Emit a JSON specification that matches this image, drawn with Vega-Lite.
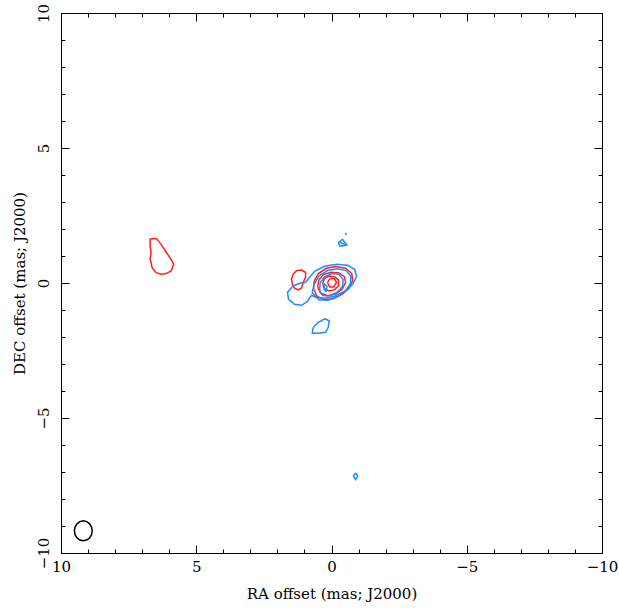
{
  "$schema": "https://vega.github.io/schema/vega-lite/v6.json",
  "width": 541,
  "height": 540,
  "autosize": {"type": "none"},
  "padding": {"left": 61, "top": 13, "right": 17, "bottom": 59},
  "background": "white",
  "config": {
    "view": {"stroke": "#000000", "strokeWidth": 1},
    "axis": {"labelFont": "DejaVu Serif", "titleFont": "DejaVu Serif", "labelColor": "#000", "titleColor": "#000", "tickColor": "#000", "labelFlush": false, "labelOverlap": false, "grid": false, "domain": false}
  },
  "data": {"values": [
    {"id": "r0", "series": "A", "seq": 0, "ra": 6.706, "dec": 1.643},
    {"id": "r0", "series": "A", "seq": 1, "ra": 6.462, "dec": 1.643},
    {"id": "r0", "series": "A", "seq": 2, "ra": 6.299, "dec": 1.432},
    {"id": "r0", "series": "A", "seq": 3, "ra": 6.114, "dec": 1.147},
    {"id": "r0", "series": "A", "seq": 4, "ra": 5.929, "dec": 0.877},
    {"id": "r0", "series": "A", "seq": 5, "ra": 5.833, "dec": 0.692},
    {"id": "r0", "series": "A", "seq": 6, "ra": 5.929, "dec": 0.444},
    {"id": "r0", "series": "A", "seq": 7, "ra": 6.114, "dec": 0.348},
    {"id": "r0", "series": "A", "seq": 8, "ra": 6.299, "dec": 0.322},
    {"id": "r0", "series": "A", "seq": 9, "ra": 6.484, "dec": 0.385},
    {"id": "r0", "series": "A", "seq": 10, "ra": 6.632, "dec": 0.570},
    {"id": "r0", "series": "A", "seq": 11, "ra": 6.669, "dec": 0.755},
    {"id": "r0", "series": "A", "seq": 12, "ra": 6.706, "dec": 0.877},
    {"id": "r0", "series": "A", "seq": 13, "ra": 6.669, "dec": 1.125},
    {"id": "r0", "series": "A", "seq": 14, "ra": 6.706, "dec": 1.369},
    {"id": "r0", "series": "A", "seq": 15, "ra": 6.706, "dec": 1.643},

    {"id": "r1", "series": "A", "seq": 0, "ra": 1.414, "dec": 0.333},
    {"id": "r1", "series": "A", "seq": 1, "ra": 1.292, "dec": 0.459},
    {"id": "r1", "series": "A", "seq": 2, "ra": 1.107, "dec": 0.481},
    {"id": "r1", "series": "A", "seq": 3, "ra": 0.959, "dec": 0.396},
    {"id": "r1", "series": "A", "seq": 4, "ra": 0.959, "dec": 0.211},
    {"id": "r1", "series": "A", "seq": 5, "ra": 1.044, "dec": 0.026},
    {"id": "r1", "series": "A", "seq": 6, "ra": 1.107, "dec": -0.185},
    {"id": "r1", "series": "A", "seq": 7, "ra": 1.229, "dec": -0.259},
    {"id": "r1", "series": "A", "seq": 8, "ra": 1.377, "dec": -0.185},
    {"id": "r1", "series": "A", "seq": 9, "ra": 1.451, "dec": -0.011},
    {"id": "r1", "series": "A", "seq": 10, "ra": 1.477, "dec": 0.148},
    {"id": "r1", "series": "A", "seq": 11, "ra": 1.414, "dec": 0.333},

    {"id": "r2", "series": "A", "seq": 0, "ra": 0.660, "dec": -0.230},
    {"id": "r2", "series": "A", "seq": 1, "ra": 0.640, "dec": 0.070},
    {"id": "r2", "series": "A", "seq": 2, "ra": 0.485, "dec": 0.350},
    {"id": "r2", "series": "A", "seq": 3, "ra": 0.190, "dec": 0.545},
    {"id": "r2", "series": "A", "seq": 4, "ra": -0.160, "dec": 0.610},
    {"id": "r2", "series": "A", "seq": 5, "ra": -0.520, "dec": 0.545},
    {"id": "r2", "series": "A", "seq": 6, "ra": -0.750, "dec": 0.350},
    {"id": "r2", "series": "A", "seq": 7, "ra": -0.780, "dec": 0.090},
    {"id": "r2", "series": "A", "seq": 8, "ra": -0.650, "dec": -0.195},
    {"id": "r2", "series": "A", "seq": 9, "ra": -0.390, "dec": -0.425},
    {"id": "r2", "series": "A", "seq": 10, "ra": -0.070, "dec": -0.580},
    {"id": "r2", "series": "A", "seq": 11, "ra": 0.280, "dec": -0.620},
    {"id": "r2", "series": "A", "seq": 12, "ra": 0.535, "dec": -0.490},
    {"id": "r2", "series": "A", "seq": 13, "ra": 0.660, "dec": -0.230},

    {"id": "r3", "series": "A", "seq": 0, "ra": 0.514, "dec": -0.134},
    {"id": "r3", "series": "A", "seq": 1, "ra": 0.465, "dec": 0.112},
    {"id": "r3", "series": "A", "seq": 2, "ra": 0.305, "dec": 0.310},
    {"id": "r3", "series": "A", "seq": 3, "ra": 0.021, "dec": 0.396},
    {"id": "r3", "series": "A", "seq": 4, "ra": -0.275, "dec": 0.371},
    {"id": "r3", "series": "A", "seq": 5, "ra": -0.472, "dec": 0.236},
    {"id": "r3", "series": "A", "seq": 6, "ra": -0.522, "dec": 0.026},
    {"id": "r3", "series": "A", "seq": 7, "ra": -0.398, "dec": -0.221},
    {"id": "r3", "series": "A", "seq": 8, "ra": -0.152, "dec": -0.406},
    {"id": "r3", "series": "A", "seq": 9, "ra": 0.144, "dec": -0.468},
    {"id": "r3", "series": "A", "seq": 10, "ra": 0.391, "dec": -0.381},
    {"id": "r3", "series": "A", "seq": 11, "ra": 0.514, "dec": -0.134},

    {"id": "r4", "series": "A", "seq": 0, "ra": 0.330, "dec": -0.036},
    {"id": "r4", "series": "A", "seq": 1, "ra": 0.258, "dec": 0.176},
    {"id": "r4", "series": "A", "seq": 2, "ra": 0.090, "dec": 0.260},
    {"id": "r4", "series": "A", "seq": 3, "ra": -0.120, "dec": 0.236},
    {"id": "r4", "series": "A", "seq": 4, "ra": -0.262, "dec": 0.106},
    {"id": "r4", "series": "A", "seq": 5, "ra": -0.262, "dec": -0.092},
    {"id": "r4", "series": "A", "seq": 6, "ra": -0.120, "dec": -0.246},
    {"id": "r4", "series": "A", "seq": 7, "ra": 0.090, "dec": -0.292},
    {"id": "r4", "series": "A", "seq": 8, "ra": 0.258, "dec": -0.210},
    {"id": "r4", "series": "A", "seq": 9, "ra": 0.330, "dec": -0.036},

    {"id": "r5", "series": "A", "seq": 0, "ra": 0.150, "dec": 0.020},
    {"id": "r5", "series": "A", "seq": 1, "ra": 0.048, "dec": 0.170},
    {"id": "r5", "series": "A", "seq": 2, "ra": -0.105, "dec": 0.170},
    {"id": "r5", "series": "A", "seq": 3, "ra": -0.185, "dec": 0.020},
    {"id": "r5", "series": "A", "seq": 4, "ra": -0.085, "dec": -0.150},
    {"id": "r5", "series": "A", "seq": 5, "ra": 0.068, "dec": -0.150},
    {"id": "r5", "series": "A", "seq": 6, "ra": 0.150, "dec": 0.020},

    {"id": "b1", "series": "B", "seq": 0, "ra": 1.181, "dec": -0.011},
    {"id": "b1", "series": "B", "seq": 1, "ra": 1.440, "dec": -0.122},
    {"id": "b1", "series": "B", "seq": 2, "ra": 1.625, "dec": -0.344},
    {"id": "b1", "series": "B", "seq": 3, "ra": 1.588, "dec": -0.603},
    {"id": "b1", "series": "B", "seq": 4, "ra": 1.366, "dec": -0.788},
    {"id": "b1", "series": "B", "seq": 5, "ra": 1.107, "dec": -0.825},
    {"id": "b1", "series": "B", "seq": 6, "ra": 0.885, "dec": -0.677},
    {"id": "b1", "series": "B", "seq": 7, "ra": 0.736, "dec": -0.455},
    {"id": "b1", "series": "B", "seq": 8, "ra": 0.588, "dec": -0.529},
    {"id": "b1", "series": "B", "seq": 9, "ra": 0.255, "dec": -0.566},
    {"id": "b1", "series": "B", "seq": 10, "ra": -0.115, "dec": -0.492},
    {"id": "b1", "series": "B", "seq": 11, "ra": -0.485, "dec": -0.307},
    {"id": "b1", "series": "B", "seq": 12, "ra": -0.781, "dec": -0.048},
    {"id": "b1", "series": "B", "seq": 13, "ra": -0.929, "dec": 0.248},
    {"id": "b1", "series": "B", "seq": 14, "ra": -0.855, "dec": 0.507},
    {"id": "b1", "series": "B", "seq": 15, "ra": -0.596, "dec": 0.655},
    {"id": "b1", "series": "B", "seq": 16, "ra": -0.189, "dec": 0.692},
    {"id": "b1", "series": "B", "seq": 17, "ra": 0.255, "dec": 0.618},
    {"id": "b1", "series": "B", "seq": 18, "ra": 0.625, "dec": 0.433},
    {"id": "b1", "series": "B", "seq": 19, "ra": 0.811, "dec": 0.211},
    {"id": "b1", "series": "B", "seq": 20, "ra": 0.959, "dec": 0.026},
    {"id": "b1", "series": "B", "seq": 21, "ra": 1.181, "dec": -0.011},

    {"id": "b2", "series": "B", "seq": 0, "ra": 0.72, "dec": -0.36},
    {"id": "b2", "series": "B", "seq": 1, "ra": 0.64, "dec": -0.05},
    {"id": "b2", "series": "B", "seq": 2, "ra": 0.46, "dec": 0.26},
    {"id": "b2", "series": "B", "seq": 3, "ra": 0.15, "dec": 0.46},
    {"id": "b2", "series": "B", "seq": 4, "ra": -0.21, "dec": 0.53},
    {"id": "b2", "series": "B", "seq": 5, "ra": -0.54, "dec": 0.46},
    {"id": "b2", "series": "B", "seq": 6, "ra": -0.72, "dec": 0.25},
    {"id": "b2", "series": "B", "seq": 7, "ra": -0.70, "dec": -0.02},
    {"id": "b2", "series": "B", "seq": 8, "ra": -0.52, "dec": -0.29},
    {"id": "b2", "series": "B", "seq": 9, "ra": -0.23, "dec": -0.50},
    {"id": "b2", "series": "B", "seq": 10, "ra": 0.12, "dec": -0.64},
    {"id": "b2", "series": "B", "seq": 11, "ra": 0.46, "dec": -0.62},
    {"id": "b2", "series": "B", "seq": 12, "ra": 0.72, "dec": -0.36},

    {"id": "b3", "series": "B", "seq": 0, "ra": 0.44, "dec": -0.32},
    {"id": "b3", "series": "B", "seq": 1, "ra": 0.42, "dec": 0.00},
    {"id": "b3", "series": "B", "seq": 2, "ra": 0.26, "dec": 0.23},
    {"id": "b3", "series": "B", "seq": 3, "ra": 0.00, "dec": 0.35},
    {"id": "b3", "series": "B", "seq": 4, "ra": -0.27, "dec": 0.32},
    {"id": "b3", "series": "B", "seq": 5, "ra": -0.43, "dec": 0.13},
    {"id": "b3", "series": "B", "seq": 6, "ra": -0.41, "dec": -0.13},
    {"id": "b3", "series": "B", "seq": 7, "ra": -0.21, "dec": -0.34},
    {"id": "b3", "series": "B", "seq": 8, "ra": 0.05, "dec": -0.47},
    {"id": "b3", "series": "B", "seq": 9, "ra": 0.31, "dec": -0.47},
    {"id": "b3", "series": "B", "seq": 10, "ra": 0.44, "dec": -0.32},

    {"id": "b4", "series": "B", "seq": 0, "ra": 0.27, "dec": -0.02},
    {"id": "b4", "series": "B", "seq": 1, "ra": 0.27, "dec": -0.25},
    {"id": "b4", "series": "B", "seq": 2, "ra": 0.20, "dec": -0.30},
    {"id": "b4", "series": "B", "seq": 3, "ra": 0.17, "dec": -0.12},
    {"id": "b4", "series": "B", "seq": 4, "ra": 0.27, "dec": -0.02},

    {"id": "b5", "series": "B", "seq": 0, "ra": 0.675, "dec": -1.640},
    {"id": "b5", "series": "B", "seq": 1, "ra": 0.490, "dec": -1.454},
    {"id": "b5", "series": "B", "seq": 2, "ra": 0.243, "dec": -1.331},
    {"id": "b5", "series": "B", "seq": 3, "ra": 0.083, "dec": -1.393},
    {"id": "b5", "series": "B", "seq": 4, "ra": 0.120, "dec": -1.640},
    {"id": "b5", "series": "B", "seq": 5, "ra": 0.218, "dec": -1.825},
    {"id": "b5", "series": "B", "seq": 6, "ra": 0.490, "dec": -1.862},
    {"id": "b5", "series": "B", "seq": 7, "ra": 0.712, "dec": -1.862},
    {"id": "b5", "series": "B", "seq": 8, "ra": 0.675, "dec": -1.640},

    {"id": "b6", "series": "B", "seq": 0, "ra": -0.252, "dec": 1.49},
    {"id": "b6", "series": "B", "seq": 1, "ra": -0.407, "dec": 1.62},
    {"id": "b6", "series": "B", "seq": 2, "ra": -0.570, "dec": 1.40},
    {"id": "b6", "series": "B", "seq": 3, "ra": -0.315, "dec": 1.366},
    {"id": "b6", "series": "B", "seq": 4, "ra": -0.252, "dec": 1.49},

    {"id": "b7", "series": "B", "seq": 0, "ra": -0.28, "dec": 1.52},
    {"id": "b7", "series": "B", "seq": 1, "ra": -0.50, "dec": 1.42},

    {"id": "b8", "series": "B", "seq": 0, "ra": -0.52, "dec": 1.86},
    {"id": "b8", "series": "B", "seq": 1, "ra": -0.54, "dec": 1.77},

    {"id": "b9", "series": "B", "seq": 0, "ra": -0.89, "dec": -7.03},
    {"id": "b9", "series": "B", "seq": 1, "ra": -0.97, "dec": -7.15},
    {"id": "b9", "series": "B", "seq": 2, "ra": -0.89, "dec": -7.28},
    {"id": "b9", "series": "B", "seq": 3, "ra": -0.81, "dec": -7.15},
    {"id": "b9", "series": "B", "seq": 4, "ra": -0.89, "dec": -7.03},

    {"id": "beam", "series": "beam", "seq": 0, "ra": 9.505, "dec": -9.18},
    {"id": "beam", "series": "beam", "seq": 1, "ra": 9.480, "dec": -9.038},
    {"id": "beam", "series": "beam", "seq": 2, "ra": 9.408, "dec": -8.918},
    {"id": "beam", "series": "beam", "seq": 3, "ra": 9.301, "dec": -8.838},
    {"id": "beam", "series": "beam", "seq": 4, "ra": 9.175, "dec": -8.81},
    {"id": "beam", "series": "beam", "seq": 5, "ra": 9.049, "dec": -8.838},
    {"id": "beam", "series": "beam", "seq": 6, "ra": 8.942, "dec": -8.918},
    {"id": "beam", "series": "beam", "seq": 7, "ra": 8.870, "dec": -9.038},
    {"id": "beam", "series": "beam", "seq": 8, "ra": 8.845, "dec": -9.18},
    {"id": "beam", "series": "beam", "seq": 9, "ra": 8.870, "dec": -9.322},
    {"id": "beam", "series": "beam", "seq": 10, "ra": 8.942, "dec": -9.442},
    {"id": "beam", "series": "beam", "seq": 11, "ra": 9.049, "dec": -9.522},
    {"id": "beam", "series": "beam", "seq": 12, "ra": 9.175, "dec": -9.55},
    {"id": "beam", "series": "beam", "seq": 13, "ra": 9.301, "dec": -9.522},
    {"id": "beam", "series": "beam", "seq": 14, "ra": 9.408, "dec": -9.442},
    {"id": "beam", "series": "beam", "seq": 15, "ra": 9.480, "dec": -9.322},
    {"id": "beam", "series": "beam", "seq": 16, "ra": 9.505, "dec": -9.18}
  ]},
  "resolve": {"axis": {"x": "independent", "y": "independent"}},
  "layer": [
    {
      "mark": {"type": "line", "strokeWidth": 1.5, "interpolate": "linear"},
      "encoding": {
        "x": {"field": "ra", "type": "quantitative", "scale": {"domain": [-10, 10], "reverse": true, "nice": false, "zero": false},
              "axis": {"orient": "bottom", "values": [-10, -5, 0, 5, 10], "ticks": false, "labelFontSize": 15, "labelPadding": 6, "title": "RA offset (mas; J2000)", "titleFontSize": 15, "titleFontWeight": "normal", "titlePadding": 12}},
        "y": {"field": "dec", "type": "quantitative", "scale": {"domain": [-10, 10], "nice": false, "zero": false},
              "axis": {"orient": "left", "values": [-10, -5, 0, 5, 10], "ticks": false, "labelFontSize": 15, "labelAngle": -90, "labelAlign": "center", "labelBaseline": "bottom", "labelPadding": 10, "title": "DEC offset (mas; J2000)", "titleFontSize": 15, "titleFontWeight": "normal", "titlePadding": 9}},
        "color": {"field": "series", "type": "nominal", "scale": {"domain": ["A", "B", "beam"], "range": ["#ff1f1f", "#1e8cff", "#000000"]}, "legend": null},
        "detail": {"field": "id", "type": "nominal"},
        "order": {"field": "seq", "type": "quantitative"}
      }
    },
    {
      "mark": {"type": "point", "opacity": 0},
      "encoding": {
        "x": {"field": "ra", "type": "quantitative", "axis": {"orient": "bottom", "values": [-10, -9, -8, -7, -6, -5, -4, -3, -2, -1, 0, 1, 2, 3, 4, 5, 6, 7, 8, 9, 10], "labels": false, "tickSize": -4, "title": null}},
        "y": {"field": "dec", "type": "quantitative", "axis": {"orient": "left", "values": [-10, -9, -8, -7, -6, -5, -4, -3, -2, -1, 0, 1, 2, 3, 4, 5, 6, 7, 8, 9, 10], "labels": false, "tickSize": -4, "title": null}}
      }
    },
    {
      "mark": {"type": "point", "opacity": 0},
      "encoding": {
        "x": {"field": "ra", "type": "quantitative", "axis": {"orient": "bottom", "values": [-10, -5, 0, 5, 10], "labels": false, "tickSize": -8, "title": null}},
        "y": {"field": "dec", "type": "quantitative", "axis": {"orient": "left", "values": [-10, -5, 0, 5, 10], "labels": false, "tickSize": -8, "title": null}}
      }
    },
    {
      "mark": {"type": "point", "opacity": 0},
      "encoding": {
        "x": {"field": "ra", "type": "quantitative", "axis": {"orient": "top", "values": [-10, -9, -8, -7, -6, -5, -4, -3, -2, -1, 0, 1, 2, 3, 4, 5, 6, 7, 8, 9, 10], "labels": false, "tickSize": -4, "title": null}},
        "y": {"field": "dec", "type": "quantitative", "axis": {"orient": "right", "values": [-10, -9, -8, -7, -6, -5, -4, -3, -2, -1, 0, 1, 2, 3, 4, 5, 6, 7, 8, 9, 10], "labels": false, "tickSize": -4, "title": null}}
      }
    },
    {
      "mark": {"type": "point", "opacity": 0},
      "encoding": {
        "x": {"field": "ra", "type": "quantitative", "axis": {"orient": "top", "values": [-10, -5, 0, 5, 10], "labels": false, "tickSize": -8, "title": null}},
        "y": {"field": "dec", "type": "quantitative", "axis": {"orient": "right", "values": [-10, -5, 0, 5, 10], "labels": false, "tickSize": -8, "title": null}}
      }
    }
  ]
}
